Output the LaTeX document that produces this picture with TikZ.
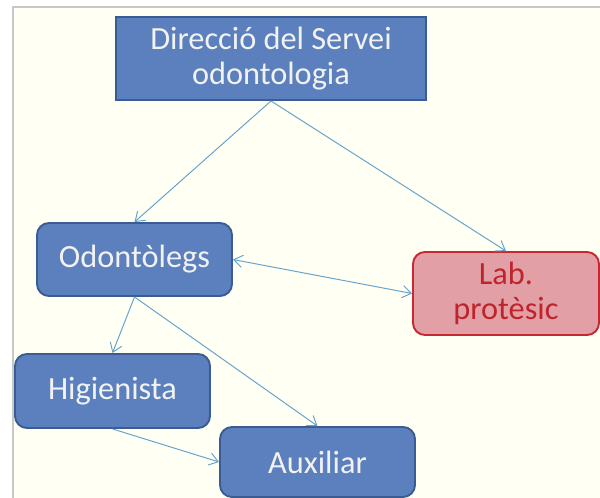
\documentclass[tikz,border=0pt]{standalone}
\usepackage{fontspec}
\setmainfont{Carlito}
\usetikzlibrary{positioning,arrows.meta,calc}
\usepackage{xcolor}

\definecolor{boxblue}{RGB}{91,128,189}
\definecolor{edgeblue}{RGB}{58,92,146}
\definecolor{labfill}{RGB}{226,160,166}
\definecolor{labedge}{RGB}{196,42,48}
\definecolor{labtext}{RGB}{190,36,44}
\definecolor{linkblue}{RGB}{100,163,204}
\definecolor{paper}{RGB}{255,255,243}
\definecolor{framegray}{RGB}{200,200,200}

\begin{document}
\begin{tikzpicture}[
			orgbox/.style={rectangle, draw=edgeblue, line width=1.1pt, fill=boxblue, text=white!95!black, align=center, font=\fontsize{18.4}{20}\selectfont, inner sep=2pt},
			rolebox/.style={orgbox, rounded corners=0.24cm, minimum width=3.9cm, minimum height=1.44cm},
			labbox/.style={rolebox, draw=labedge, fill=labfill, text=labtext, minimum width=3.72cm, minimum height=1.66cm},
			arrow/.style={-{Straight Barb[length=5pt,width=7pt]}, line width=0.55pt, color=linkblue},
			twoway/.style={arrow, {Straight Barb[length=5pt,width=7pt]}-{Straight Barb[length=5pt,width=7pt]}}
			]
			
			% Page and slide frame
			\useasboundingbox (0,0) rectangle (12,9.96);
			\fill[paper] (0.26,0) rectangle (12,9.82);
			\draw[framegray, line width=1.2pt] (0.26,0) -- (0.26,9.82) -- (12,9.82);
			
			% Node 1: Direction
			\node[orgbox, minimum width=6.2cm, minimum height=1.66cm] (dir) at (5.42,8.79) {Direcció del Servei\\odontologia};
			
			% Node 2: Dentists
			\node[rolebox, minimum height=1.46cm] (odo) at (2.69,4.77) {Odontòlegs};
			
			% Node 3: Lab
			\node[labbox] (lab) at (10.12,4.09) {Lab.\\protèsic};
			
			% Node 4: Hygienist
			\node[rolebox, minimum height=1.48cm] (hig) at (2.25,2.14) {Higienista};
			
			% Node 5: Assistant
			\node[rolebox, minimum height=1.40cm] (aux) at (6.35,0.72) {Auxiliar};
			
			% Arrows
			\draw[arrow] (dir.south) -- (odo.north);
			\draw[arrow] (dir.south) -- (lab.north);
			\draw[twoway] (odo.east) -- (lab.west);
			\draw[arrow] (odo.south) -- (hig.north);
			\draw[arrow] (odo.south) -- (aux.north);
			\draw[arrow] (hig.south) -- (aux.west);
			
		\end{tikzpicture}
\end{document}
